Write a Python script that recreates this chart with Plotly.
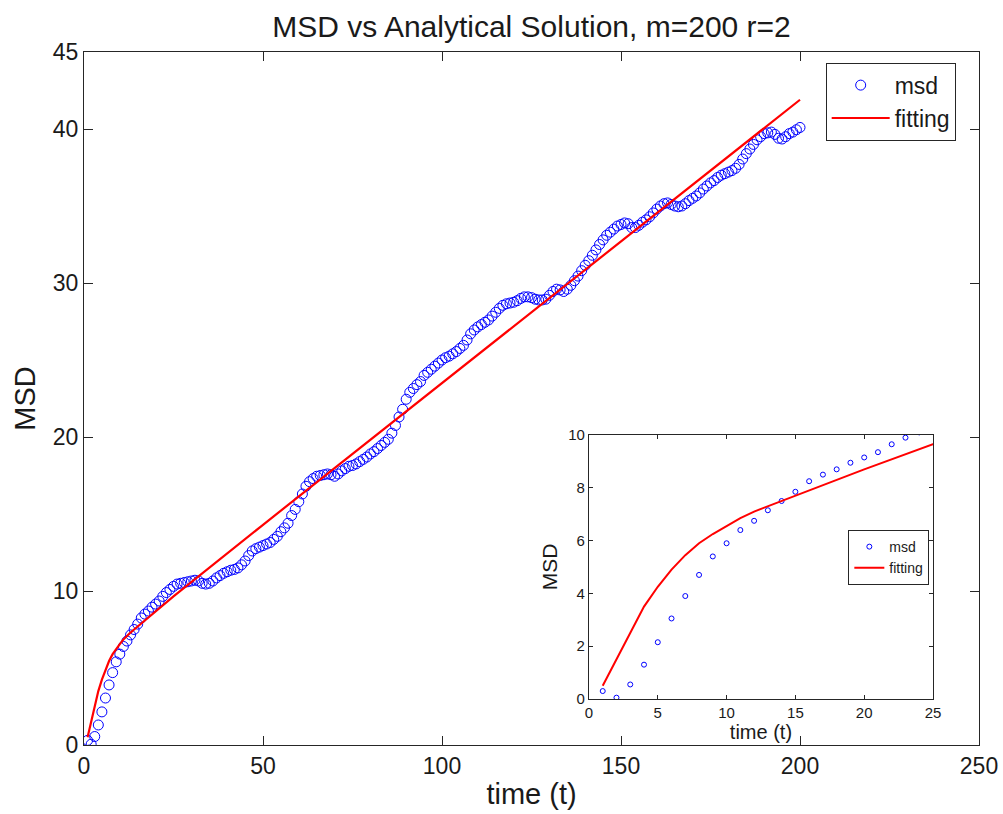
import plotly.graph_objects as go

# ---- data ----
t_msd = list(range(1, 201))
msd = [
    0.3, 0.05, 0.55, 1.3, 2.15, 3.05, 3.9, 4.7, 5.4, 5.9,
    6.4, 6.75, 7.15, 7.5, 7.85, 8.25, 8.5, 8.7, 8.95, 9.15,
    9.35, 9.65, 9.9, 10.1, 10.3, 10.45, 10.5, 10.55, 10.6, 10.65,
    10.7, 10.65, 10.5, 10.45, 10.5, 10.65, 10.85, 11.0, 11.15, 11.25,
    11.35, 11.4, 11.5, 11.7, 11.95, 12.3, 12.6, 12.75, 12.85, 12.95,
    13.05, 13.15, 13.35, 13.55, 13.85, 14.1, 14.4, 14.9, 15.3, 15.8,
    16.3, 16.8, 17.1, 17.3, 17.45, 17.5, 17.55, 17.6, 17.55, 17.45,
    17.6, 17.8, 17.95, 18.1, 18.15, 18.25, 18.4, 18.55, 18.7, 18.9,
    19.05, 19.25, 19.45, 19.65, 19.85, 20.25, 20.75, 21.3, 21.8, 22.45,
    22.9, 23.15, 23.4, 23.6, 24.0, 24.2, 24.4, 24.6, 24.8, 25.0,
    25.15, 25.25, 25.4, 25.55, 25.75, 25.95, 26.3, 26.7, 26.95, 27.15,
    27.3, 27.45, 27.6, 27.85, 28.1, 28.35, 28.55, 28.65, 28.7, 28.75,
    28.85, 29.0, 29.1, 29.1, 29.05, 28.95, 28.9, 28.9, 28.95, 29.2,
    29.45, 29.6, 29.55, 29.45, 29.6, 29.85, 30.15, 30.45, 30.8, 31.15,
    31.45, 31.8, 32.15, 32.5, 32.8, 33.1, 33.3, 33.5, 33.7, 33.8,
    33.9, 33.85, 33.6, 33.6, 33.75, 33.95, 34.1, 34.3, 34.55, 34.8,
    35.0, 35.15, 35.2, 35.1, 35.0, 34.95, 35.0, 35.15, 35.35, 35.5,
    35.65, 35.85, 36.1, 36.3, 36.5, 36.65, 36.85, 37.0, 37.1, 37.2,
    37.3, 37.45, 37.7, 38.05, 38.4, 38.7, 39.0, 39.3, 39.5, 39.7,
    39.75, 39.8, 39.65, 39.4, 39.35, 39.5, 39.7, 39.8, 39.95, 40.1,
]

t_fit = [1, 2, 3, 4, 5, 6, 7, 8, 9, 10, 11, 12, 13, 14, 15, 16, 17, 18, 19, 20,
         25, 50, 100, 150, 200]
fit = [0.5, 1.5, 2.5, 3.5, 4.25, 4.9, 5.45, 5.9, 6.25, 6.55, 6.85, 7.1, 7.3, 7.5,
       7.7, 7.9, 8.1, 8.3, 8.5, 8.7, 9.65, 14.3, 23.5, 32.7, 41.9]

main_xticks = [0, 50, 100, 150, 200, 250]
main_yticks = [0, 10, 20, 30, 40, 45]
inset_xticks = [0, 5, 10, 15, 20, 25]
inset_yticks = [0, 2, 4, 6, 8, 10]

FONT = "Liberation Sans, Arial, Helvetica, sans-serif"
BLUE = "#0000ff"
RED = "#ff0000"
AX = "#262626"
TXT = "#1a1a1a"

fig = go.Figure()

# main
fig.add_trace(go.Scatter(x=t_msd, y=msd, mode="markers", name="msd",
                         marker=dict(symbol="circle-open", size=10, color=BLUE,
                                     line=dict(width=1, color=BLUE)),
                         xaxis="x", yaxis="y", legend="legend"))
fig.add_trace(go.Scatter(x=t_fit, y=fit, mode="lines", name="fitting",
                         line=dict(color=RED, width=2.2),
                         xaxis="x", yaxis="y", legend="legend"))
# inset
fig.add_trace(go.Scatter(x=t_msd, y=msd, mode="markers", name="msd",
                         marker=dict(symbol="circle-open", size=5, color=BLUE,
                                     line=dict(width=1, color=BLUE)),
                         xaxis="x2", yaxis="y2", legend="legend2"))
fig.add_trace(go.Scatter(x=t_fit, y=fit, mode="lines", name="fitting",
                         line=dict(color=RED, width=2),
                         xaxis="x2", yaxis="y2", legend="legend2"))

axis_common = dict(showline=True, linecolor=AX, linewidth=1, mirror="ticks",
                   ticks="inside", tickcolor=AX, showgrid=False, zeroline=False,
                   automargin=False)

fig.update_layout(
    width=1003, height=814,
    margin=dict(l=84, r=24, t=52, b=69, autoexpand=False),
    paper_bgcolor="white", plot_bgcolor="white",
    font=dict(family=FONT, color=TXT),
    title=dict(text="MSD vs Analytical Solution, m=200 r=2",
               x=0.5, xref="paper", xanchor="center", y=0.967, yanchor="middle",
               font=dict(size=30, color=TXT), automargin=False),
    xaxis=dict(domain=[0, 1], range=[0, 250], tickvals=main_xticks, ticklen=9,
               tickfont=dict(size=23), title=dict(text="time (t)", font=dict(size=29), standoff=6),
               anchor="y", **axis_common),
    yaxis=dict(domain=[0, 1], range=[0, 45], tickvals=main_yticks, ticklen=9,
               tickfont=dict(size=23), title=dict(text="MSD", font=dict(size=29), standoff=8),
               anchor="x", **axis_common),
    xaxis2=dict(domain=[0.5642, 0.9486], range=[0, 25], tickvals=inset_xticks, ticklen=4,
                tickfont=dict(size=15), title=dict(text="time (t)", font=dict(size=20), standoff=0),
                anchor="y2", **axis_common),
    yaxis2=dict(domain=[0.0664, 0.4473], range=[0, 10], tickvals=inset_yticks, ticklen=4,
                tickfont=dict(size=15), title=dict(text="MSD", font=dict(size=21), standoff=4),
                anchor="x2", **axis_common),
    legend=dict(x=0.8287, y=0.9846, xanchor="left", yanchor="top",
                bgcolor="white", bordercolor=AX, borderwidth=1,
                font=dict(size=23, color=TXT), itemwidth=58,
                tracegroupgap=0),
    legend2=dict(x=0.854, y=0.3102, xanchor="left", yanchor="top",
                 bgcolor="white", bordercolor=AX, borderwidth=1,
                 font=dict(size=14, color=TXT), itemwidth=30),
)

fig.write_html("out.html")
